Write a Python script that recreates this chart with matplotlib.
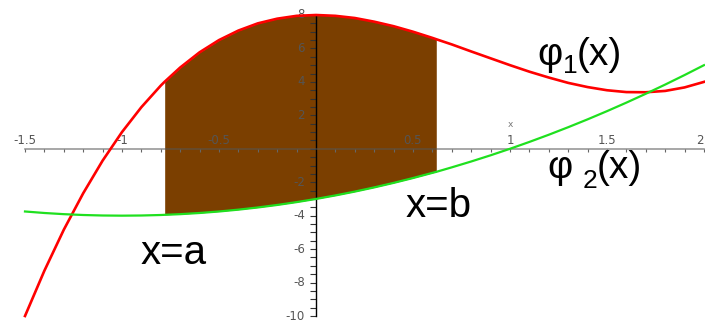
import matplotlib
matplotlib.use("Agg")
import numpy as np
import matplotlib.pyplot as plt
from matplotlib.ticker import MultipleLocator

# sample points of the two curves (x=a and x=b included so the shaded strip has exact edges)
x_vals = [-1.5, -1.4, -1.3, -1.2, -1.1, -1.0, -0.9, -0.8, -0.78, -0.7, -0.6, -0.5,
          -0.4, -0.3, -0.2, -0.1, 0.0, 0.1, 0.2, 0.3, 0.4, 0.5, 0.6, 0.62, 0.7,
          0.8, 0.9, 1.0, 1.1, 1.2, 1.3, 1.4, 1.5, 1.6, 1.7, 1.8, 1.9, 2.0]
phi1_vals = [-10.00, -7.29, -4.84, -2.66, -0.71, 1.00, 2.49, 3.78, 4.01, 4.86, 5.77, 6.50,
             7.07, 7.50, 7.78, 7.95, 8.00, 7.95, 7.82, 7.60, 7.33, 7.00, 6.63, 6.55, 6.24,
             5.82, 5.41, 5.00, 4.61, 4.26, 3.94, 3.69, 3.50, 3.39, 3.38, 3.46, 3.67, 4.00]
phi2_vals = [-3.75, -3.84, -3.91, -3.96, -3.99, -4.00, -3.99, -3.96, -3.95, -3.91, -3.84, -3.75,
             -3.64, -3.51, -3.36, -3.19, -3.00, -2.79, -2.56, -2.31, -2.04, -1.75, -1.44, -1.38, -1.11,
             -0.76, -0.39, 0.00, 0.41, 0.84, 1.29, 1.76, 2.25, 2.76, 3.29, 3.84, 4.41, 5.00]
a = -0.78
b = 0.62

x_ticklabels = ["-1.5", "-1", "-0.5", "0.5", "1", "1.5", "2"]
x_tickvals = [-1.5, -1.0, -0.5, 0.5, 1.0, 1.5, 2.0]
y_ticklabels = ["8", "6", "4", "2", "-2", "-4", "-6", "-8", "-10"]
y_tickvals = [8, 6, 4, 2, -2, -4, -6, -8, -10]

x = np.array(x_vals)
phi1 = np.array(phi1_vals)
phi2 = np.array(phi2_vals)

W, H = 705, 324
fig = plt.figure(figsize=(W / 100, H / 100), dpi=100)
ax = fig.add_axes([25 / W, 8 / H, 679 / W, 301 / H])
ax.set_xlim(-1.5, 2.0)
ax.set_ylim(-10, 8)

# shaded area between the curves, a <= x <= b
ax.fill_between(x, phi2, phi1, where=(x >= a) & (x <= b), color="#7b3f00",
                linewidth=0, zorder=1)

ax.plot(x, phi1, color="#ff0000", lw=1.9, zorder=4, clip_on=False)
ax.plot(x, phi2, color="#1fe01f", lw=1.6, zorder=4, clip_on=False)

# axes through the origin, maple style
for s in ["top", "right"]:
    ax.spines[s].set_visible(False)
ax.spines["left"].set_position(("data", 0))
ax.spines["bottom"].set_position(("data", 0))
ax.spines["left"].set_color("black")
ax.spines["left"].set_linewidth(1.0)
ax.spines["bottom"].set_color("#555555")
ax.spines["bottom"].set_alpha(0.6)
ax.spines["bottom"].set_linewidth(1.2)
ax.spines["left"].set_zorder(3)
ax.spines["bottom"].set_zorder(3)

ax.xaxis.set_major_locator(MultipleLocator(0.1))
ax.yaxis.set_major_locator(MultipleLocator(0.5))
ax.tick_params(axis="x", direction="out", length=2, width=0.8, color="#666666",
               labelbottom=False)
ax.tick_params(axis="y", direction="out", length=4, width=0.8, color="#333333",
               labelleft=False)
ax.patch.set_visible(False)

lab_kw = dict(fontsize=8.5, color="#555555", family="DejaVu Sans")
for v, s in zip(x_tickvals, x_ticklabels):
    # last label sits on the right edge, keep it inside the figure
    ha = "right" if v == x_tickvals[-1] else "center"
    ax.annotate(s, (v, 0), xytext=(0, 1.5), textcoords="offset points",
                ha=ha, va="bottom", zorder=2, **lab_kw)
for v, s in zip(y_tickvals, y_ticklabels):
    ax.annotate(s, (0, v), xytext=(-8, 0), textcoords="offset points",
                ha="right", va="center", zorder=2, **lab_kw)
ax.annotate("x", (1.0, 0), xytext=(0, 14), textcoords="offset points",
            ha="center", va="bottom", fontsize=6.5, color="#777777")


def ftext(px, py, s, size, **kw):
    fig.text(px / W, 1 - py / H, s, fontsize=size, family="Liberation Sans",
             ha="left", va="baseline", color="black", **kw)


# curve names
ftext(537, 65, "φ", 28)
ftext(563, 73, "1", 19)
ftext(577, 65, "(x)", 28)
ftext(547, 178, "φ", 28)
ftext(583, 188, "2", 19)
ftext(597, 178, "(x)", 28)

# integration limits
ftext(141, 264, "x=a", 29)
ftext(406, 217, "x=b", 29)

fig.savefig("out.png", dpi=100)
